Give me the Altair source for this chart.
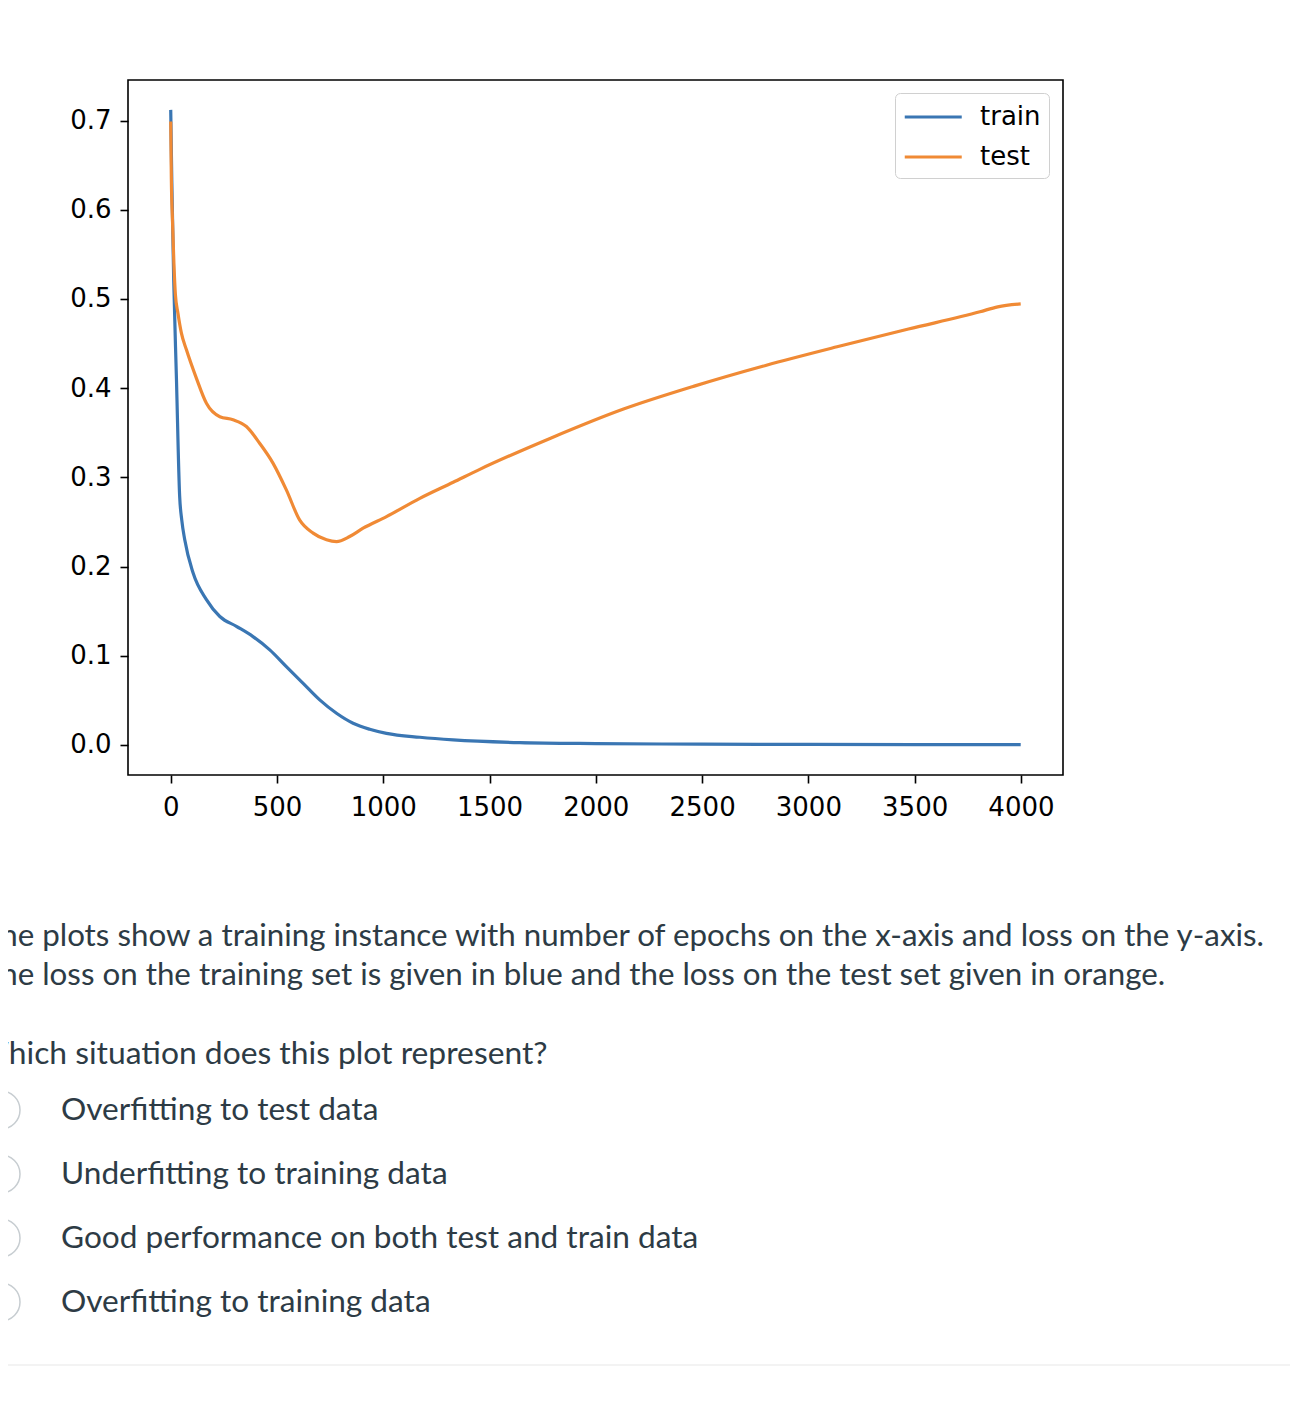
import altair as alt
import pandas as pd

# ---- data ----
train_epoch = [0, 5, 14, 27, 42, 52, 66, 105, 168, 231, 309, 387, 466, 544, 623, 701,
               780, 858, 936, 1015, 1172, 1329, 1642, 2000, 2500, 3000, 3500, 3999]
train_loss = [0.712, 0.634, 0.522, 0.41, 0.279, 0.252, 0.23, 0.193, 0.163, 0.144, 0.133,
              0.1215, 0.1066, 0.0878, 0.069, 0.0505, 0.0355, 0.0243, 0.0176, 0.013,
              0.0086, 0.0056, 0.0026, 0.0015, 0.0009, 0.0006, 0.0004, 0.0003]

test_epoch = [0, 3, 8, 15, 22, 34, 50, 74, 121, 168, 231, 293, 356, 419, 481, 544, 607,
              670, 733, 780, 842, 905, 1015, 1172, 1329, 1454, 1790, 2127, 2463, 2799,
              3135, 3471, 3807, 3891, 3999]
test_loss = [0.699, 0.634, 0.59, 0.54, 0.505, 0.484, 0.462, 0.443, 0.411, 0.383, 0.368,
             0.3646, 0.357, 0.338, 0.316, 0.286, 0.252, 0.2375, 0.230, 0.228, 0.2337,
             0.243, 0.256, 0.2765, 0.2945, 0.309, 0.3442, 0.3763, 0.4023, 0.4255, 0.4464,
             0.4663, 0.4856, 0.4912, 0.4944]

series_names = ["train", "test"]
series_colors = ["#3a76b3", "#f08a35"]

x_ticks = [0, 500, 1000, 1500, 2000, 2500, 3000, 3500, 4000]
y_ticks = [0.0, 0.1, 0.2, 0.3, 0.4, 0.5, 0.6, 0.7]

intro_lines = [
    "The plots show a training instance with number of epochs on the x-axis and loss on the y-axis.",
    "The loss on the training set is given in blue and the loss on the test set given in orange.",
]
question = "Which situation does this plot represent?"
options = [
    "Overfitting to test data",
    "Underfitting to training data",
    "Good performance on both test and train data",
    "Overfitting to training data",
]

df = pd.concat([
    pd.DataFrame({"epoch": train_epoch, "loss": train_loss, "series": "train"}),
    pd.DataFrame({"epoch": test_epoch, "loss": test_loss, "series": "test"}),
], ignore_index=True)

W, H = 935, 695
TEXT_COLOR = "#2d3b45"

lines = alt.Chart(df).mark_line(strokeWidth=3.2, interpolate="monotone").encode(
    x=alt.X("epoch:Q", scale=alt.Scale(domain=[-201, 4198], nice=False, zero=False),
            axis=alt.Axis(values=x_ticks, format="d", title=None, labelPadding=11)),
    y=alt.Y("loss:Q", scale=alt.Scale(domain=[-0.0337, 0.7455], nice=False, zero=False),
            axis=alt.Axis(values=y_ticks, format=".1f", title=None, labelPadding=9)),
    color=alt.Color("series:N", scale=alt.Scale(domain=series_names, range=series_colors),
                    sort=series_names,
                    legend=alt.Legend(title=None, orient="none", legendX=767, legendY=13,
                                      symbolType="M-1,0L3,0", symbolSize=812,
                                      symbolStrokeWidth=3.2, labelFont="DejaVu Sans",
                                      labelFontSize=26, labelColor="black",
                                      labelOffset=45, rowPadding=11, padding=8,
                                      fillColor="white", strokeColor="#d0d0d0",
                                      cornerRadius=5)),
    detail="series:N",
)

one = alt.Data(values=[{"a": 1}])


def text_layer(txt, x, y, size):
    return alt.Chart(one).mark_text(
        align="left", baseline="middle", font="Lato", fontSize=size, color=TEXT_COLOR
    ).encode(x=alt.value(x), y=alt.value(y), text=alt.value(txt))


layers = [lines]
layers.append(text_layer(intro_lines[0], -146, 857, 31.3))
layers.append(text_layer(intro_lines[1], -146, 896, 31.3))
layers.append(text_layer(question, -152, 974, 31.8))
opt_y = [1031, 1095, 1159, 1223]
for txt, yy in zip(options, opt_y):
    layers.append(text_layer(txt, -67, yy, 31.6))
    layers.append(alt.Chart(one).mark_point(shape="circle", filled=False, size=1444,
                                             stroke="#c7cdd1", strokeWidth=1.5, opacity=1).encode(
        x=alt.value(-127), y=alt.value(yy - 1)))

layers.append(alt.Chart(one).mark_rule(color="#f3f3f3", strokeWidth=2).encode(
    x=alt.value(-128), x2=alt.value(1170), y=alt.value(1285)))

chart = alt.layer(*layers).properties(
    width=W, height=H,
    autosize=alt.AutoSizeParams(type="none"),
    padding={"left": 120, "top": 72, "right": 227, "bottom": 620},
).configure_view(
    stroke="black", strokeWidth=1.6
).configure_axis(
    domain=False, grid=False, ticks=True, tickColor="black", tickWidth=1.6, tickSize=8,
    labelFont="DejaVu Sans", labelFontSize=26, labelColor="black",
    labelFlush=False, labelOverlap=False
)

chart.save("out.html", embed_options={"renderer": "svg", "actions": False})
